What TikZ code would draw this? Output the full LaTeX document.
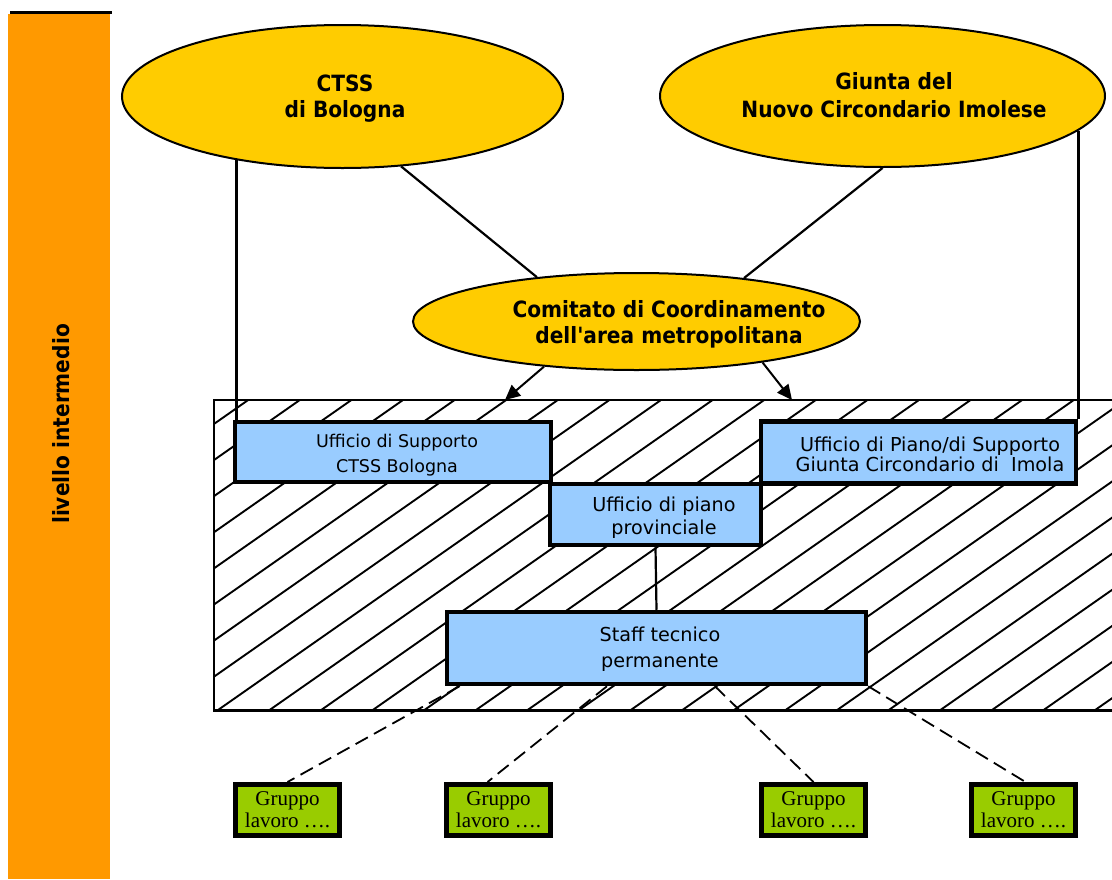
\documentclass[tikz,border=0pt]{standalone}
\usepackage{fontspec}
\setmainfont{DejaVu Sans}
\newfontfamily\bfam[FakeStretch=0.9]{DejaVu Sans}
\newfontfamily\serfam{Liberation Serif}
\usetikzlibrary{shapes.geometric,arrows.meta,calc}
\definecolor{ybg}{HTML}{FFCC00}
\definecolor{org}{HTML}{FF9900}
\definecolor{blu}{HTML}{99CCFF}
\definecolor{grn}{HTML}{99CC00}
\tikzset{
  ell/.style={ellipse, draw, line width=2pt, fill=ybg, inner sep=0pt},
  ubox/.style={rectangle, draw, line width=4.5pt, fill=blu, inner sep=0pt},
  gbox/.style={rectangle, draw, line width=5pt, fill=grn, inner sep=0pt,
    minimum width=104pt, minimum height=51pt, align=center,
    font=\serfam\fontsize{21}{22}\selectfont},
  btxt/.style={align=center, inner sep=0pt, font=\bfam\bfseries\fontsize{22.4}{26}\selectfont},
  rtxt/.style={align=center, inner sep=0pt},
  conn/.style={line width=2.2pt},
  arr/.style={line width=2pt, -{Triangle[length=15pt,width=14pt]}},
  dsh/.style={line width=1.8pt, dash pattern=on 14pt off 7pt},
  hatch/.style={line width=1.9pt}
}
\begin{document}
\begin{tikzpicture}[x=1pt,y=-1pt]
\useasboundingbox (0,0) rectangle (1112,879);
% side bar
\fill[org] (8,14) rectangle (110,879);
\draw[line width=2.5pt] (10,12.5) -- (112,12.5);
\node[rotate=90, inner sep=0pt, font=\bfam\bfseries\fontsize{22.4}{26}\selectfont] (liv) at (61,424) {livello intermedio};
% hatched area
\begin{scope}
  \clip (214,400) rectangle (1112,710);
  \foreach \k in {-9,...,17} \draw[hatch] ({218+51.6*\k},710) -- ++(443,-310);
\end{scope}
\draw[line width=2pt] (1112,400) -- (214,400) -- (214,710);
\draw[line width=3pt] (213,710) -- (1112,710);
% ellipses
\node[ell, minimum width=441pt, minimum height=143pt] (ctss) at (342.5,96.5) {};
\node[ell, minimum width=445pt, minimum height=142pt] (giunta) at (882.5,96) {};
\node[ell, minimum width=447pt, minimum height=97pt] (com) at (636.5,321.5) {};
\node[btxt] (ctsst) at (345,99) {CTSS\\ di Bologna};
\node[btxt, font=\bfam\bfseries\fontsize{22.4}{28}\selectfont] (giuntat) at (894,95.5) {Giunta del\\ Nuovo Circondario Imolese};
\node[btxt] (comt) at (669,324) {Comitato di Coordinamento\\ dell'area metropolitana};
% boxes
\node[ubox, minimum width=211pt, minimum height=61pt] (prov) at (655.5,514.5) {};
\node[ubox, minimum width=316pt, minimum height=60pt] (supp) at (393,452) {};
\node[ubox, minimum width=315pt, minimum height=62pt] (imola) at (918.5,452.5) {};
\node[ubox, minimum width=419pt, minimum height=72pt] (staff) at (656.5,648) {};
\node[rtxt, font=\fontsize{17.5}{25}\selectfont] (suppt) at (397,455) {Ufficio di Supporto\\ CTSS Bologna};
\node[rtxt, font=\fontsize{19.2}{20}\selectfont] (imolat) at (930,454.5) {Ufficio di Piano/di Supporto\\ Giunta Circondario di\ \ Imola};
\node[rtxt, font=\fontsize{19.2}{23}\selectfont] (provt) at (664,517.5) {Ufficio di piano\\ provinciale};
\node[rtxt, font=\fontsize{19.2}{26}\selectfont] (stafft) at (660,649) {Staff tecnico\\ permanente};
% green boxes
\node[gbox] (g1) at (287.5,810) {Gruppo\\lavoro ….};
\node[gbox] (g2) at (498.5,810) {Gruppo\\lavoro ….};
\node[gbox] (g3) at (813.5,810) {Gruppo\\lavoro ….};
\node[gbox] (g4) at (1023.5,810) {Gruppo\\lavoro ….};
% connectors
\draw[conn] (ctss.211) -- (ctss.211 |- supp.north);
\draw[conn] (giunta.-10.5) -- (giunta.-10.5 |- imola.north);
\draw[conn] (ctss.-50.7) -- (com.156);
\draw[conn] (giunta.south) -- (com.22);
\coordinate (a1) at (505,400);
\coordinate (a2) at (792,400);
\draw[arr] (com.206.4) -- (a1);
\draw[arr] (com.-18.4) -- (a2);
\draw[conn] (prov.south) -- (staff.north);
\draw[dsh] ($(staff.south west)!0.035!(staff.south east)$) -- (g1.north);
\draw[dsh] ($(staff.south west)!0.383!(staff.south east)$) -- ($(g2.north)+(-11,0)$);
\draw[dsh] ($(staff.south west)!0.638!(staff.south east)$) -- (g3.north);
\draw[dsh] (staff.south east) -- ($(g4.north)+(2,0)$);
\end{tikzpicture}
\end{document}
